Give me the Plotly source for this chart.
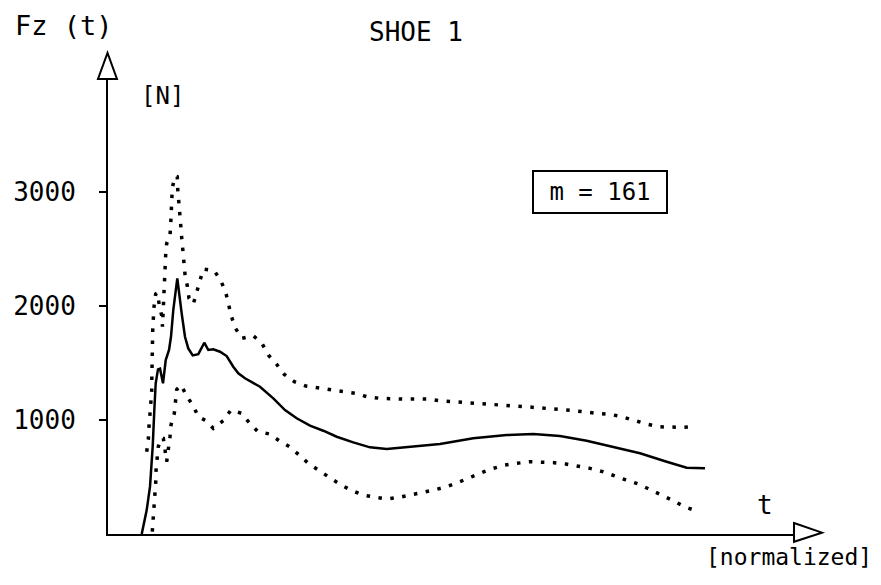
import plotly.graph_objects as go

# normalized time (t) and vertical force Fz [N]
mean_t = [5.62, 6.45, 7.0, 7.45, 7.72, 7.95, 8.33, 8.67, 9.17, 9.62, 10.17, 10.5, 10.88,
          11.55, 12.28, 12.83, 13.38, 14.12, 15.05, 15.62, 16.05, 16.72, 17.55, 18.67,
          19.78, 20.88, 21.72, 22.83, 25.33, 27.55, 29.5, 31.45, 33.67, 35.88, 38.12,
          40.88, 43.67, 46.45, 48.67, 52.0, 55.33, 60.88, 66.45, 70.88, 75.33, 79.78,
          84.22, 88.67, 93.12, 96.45, 99.5]
mean_f = [0, 210, 415, 766, 1088, 1322, 1444, 1450, 1322, 1526, 1614, 1730, 1964,
          2242, 1935, 1730, 1628, 1567, 1578, 1628, 1678, 1614, 1620, 1599,
          1561, 1467, 1409, 1366, 1292, 1190, 1087, 1015, 950, 906, 853,
          804, 760, 745, 757, 774, 789, 839, 868, 877, 859, 818,
          766, 708, 634, 581, 576]

upper_t = [6.45, 6.72, 6.83, 7.0, 7.12, 7.28, 7.3, 7.32, 7.33, 7.38, 7.45, 7.55, 7.67,
           7.95, 8.22, 8.55, 8.95, 9.08, 9.22, 9.33, 9.45, 9.5, 9.62, 9.78, 10.33,
           10.45, 10.5, 10.62, 10.72, 11.17, 11.55, 11.62, 11.83, 12.0, 12.12, 12.28,
           12.45, 12.55, 12.83, 13.22, 13.5, 14.22, 14.78, 15.33, 15.88, 17.72, 18.83,
           19.62, 20.12, 20.55, 21.22, 22.28, 24.22, 25.67, 26.72, 28.12, 29.38, 31.05,
           33.0, 35.05, 37.12, 39.22, 41.17, 43.12, 45.33, 49.22, 53.28, 55.22, 57.28,
           61.33, 65.45, 69.5, 73.55, 77.55, 81.55, 83.67, 85.62, 87.67, 89.78, 91.72,
           93.78, 95.78, 97.83]
upper_f = [722, 830, 941, 1035, 1140, 1248, 1351, 1462, 1561, 1672, 1780, 1883, 1993,
           2105, 2116, 2008, 1915, 1818, 2029, 2140, 2242, 2350, 2456, 2549, 2613,
           2719, 2827, 2929, 3037, 3140, 3134, 3026, 2920, 2813, 2710, 2602,
           2497, 2388, 2280, 2175, 2067, 2017, 2116, 2222, 2324, 2309, 2219,
           2120, 2014, 1912, 1807, 1716, 1739, 1672, 1570, 1488, 1400, 1336,
           1298, 1283, 1269, 1248, 1234, 1205, 1190, 1184, 1184, 1169, 1160,
           1146, 1131, 1117, 1102, 1082, 1058, 1050, 1029, 994, 965, 941,
           935, 935, 941]

lower_t = [7.38, 7.55, 7.67, 7.83, 7.95, 8.0, 8.17, 8.38, 8.95, 9.22, 9.5, 9.78, 10.33,
           10.5, 11.05, 11.28, 11.45, 12.17, 13.12, 14.22, 15.05, 16.33, 17.55, 19.22,
           20.5, 22.28, 23.55, 24.88, 26.88, 28.55, 30.22, 31.88, 33.38, 35.22, 37.0,
           38.67, 40.62, 42.55, 44.5, 46.45, 48.55, 50.62, 52.55, 54.78, 56.45, 58.38,
           60.33, 62.28, 64.22, 66.17, 68.12, 70.33, 72.28, 74.33, 76.33, 78.38, 80.33,
           82.45, 84.33, 86.33, 88.38, 90.33, 92.28, 94.22, 96.05, 98.0]
lower_f = [20, 137, 234, 342, 450, 553, 655, 766, 845, 839, 737, 634, 853,
           956, 1058, 1160, 1268, 1307, 1210, 1122, 1029, 994, 927, 994,
           1088, 1058, 976, 903, 877, 818, 766, 693, 620, 555, 494,
           436, 380, 342, 322, 307, 322, 342, 366, 392, 415, 453,
           497, 538, 576, 605, 620, 634, 629, 626, 614, 596, 576,
           547, 509, 474, 439, 392, 342, 292, 240, 204]

y_ticks = [1000, 2000, 3000]

FONT = "DejaVu Sans Mono"
DOTS = "3.5px,8.5px"

fig = go.Figure()
fig.add_trace(go.Scatter(x=upper_t, y=upper_f, mode="lines",
                         line=dict(color="black", width=3.5, dash=DOTS)))
fig.add_trace(go.Scatter(x=lower_t, y=lower_f, mode="lines",
                         line=dict(color="black", width=3.5, dash=DOTS)))
fig.add_trace(go.Scatter(x=mean_t, y=mean_f, mode="lines",
                         line=dict(color="black", width=2.5)))

fig.update_layout(
    width=881, height=585,
    margin=dict(l=108, r=88, t=78, b=51),
    paper_bgcolor="white", plot_bgcolor="white",
    showlegend=False,
    font=dict(family=FONT, color="black", size=26),
    xaxis=dict(range=[0, 114.17], showgrid=False, zeroline=False, showline=True,
               linecolor="black", linewidth=2, showticklabels=False, ticks="",
               automargin=False),
    yaxis=dict(range=[0, 4000], showgrid=False, zeroline=False, showline=True,
               linecolor="black", linewidth=2, tickvals=y_ticks, ticks="outside",
               ticklen=7, tickwidth=2, tickcolor="black", ticklabelstandoff=18,
               tickfont=dict(family=FONT, size=26), automargin=False),
)

# hollow arrow heads on both axes
fig.add_shape(type="path", xref="paper", yref="paper",
              path="M -0.0007 1.055 L -0.0146 0.998 L 0.0131 0.998 Z",
              line=dict(color="black", width=2), fillcolor="white")
fig.add_shape(type="path", xref="paper", yref="paper",
              path="M 1.0015 0.024 L 1.0423 0.003 L 1.0015 -0.017 Z",
              line=dict(color="black", width=2), fillcolor="white")

def label(text, px, py, size, **kw):
    fig.add_annotation(text=text, x=(px - 108) / 685, y=(534 - py) / 456,
                       xref="paper", yref="paper", showarrow=False,
                       xanchor="center", yanchor="middle",
                       font=dict(family=FONT, size=size, color="black"), **kw)

label("Fz (t)", 64, 25, 27)
label("SHOE 1", 416, 32, 26)
label("[N]", 162, 96, 24)
label("t", 765, 505, 26)
label("[normalized]", 789, 557, 23)
label("m = 161", 600, 192, 24, bordercolor="black", borderwidth=2,
      borderpad=1, width=130, height=38, bgcolor="white")

# the page body has a default margin; drop it so the figure sits at the corner
fig.write_html("out.html", config={"displayModeBar": False},
               post_script="document.body.style.margin='0';")
